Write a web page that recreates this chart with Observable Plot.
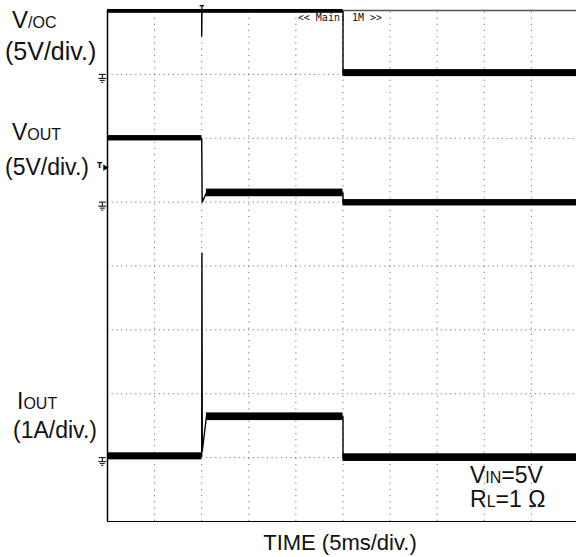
<!DOCTYPE html>
<html><head><meta charset="utf-8">
<script src="https://cdn.jsdelivr.net/npm/d3@7"></script>
<script src="https://cdn.jsdelivr.net/npm/@observablehq/plot@0.6"></script>
<style>
body{margin:0;background:#fff;}
#wrap{position:relative;width:576px;height:557px;overflow:hidden;background:#fff;font-family:"Liberation Sans",Arial,sans-serif;color:#111;}
#wrap svg{position:absolute;left:0;top:0;}
.lab{position:absolute;font-size:23px;line-height:1;white-space:nowrap;}
.sc{font-size:16px;}
</style></head><body><div id="wrap"></div>
<script>
// Screen divisions: time axis 0..10 div (5 ms/div), vertical 0..8 div
const timeDivs = [0,1,2,3,4,5,6,7,8,9,10];
const levelDivs = [0,1,2,3,4,5,6,7,8];

// Channel settings: ground marker position (div) and scale (units per div)
const channels = ["VOC","VOUT","IOUT"];
const channelGround = [7, 5, 1];
const channelScale = [5, 5, 1];
const triggerLevelVolts = 2.7; // VOUT trigger marker

// Trace waveforms (time in div, value in V or A)
const vocTime  = [0,    2,    2,   2.005, 5,    5,    10];
const vocValue = [4.93, 4.93, 3.0, 4.93,  4.93, 0.1,  0.1];
const voutTime  = [0,   2,    2.01, 2.1,  5,    5,     10];
const voutValue = [5.0, 5.0,  0.0,  0.72, 0.72, -0.05, -0.05];
const ioutTime  = [0,    2,    2.005, 2.012, 2.1,  5,    5,    10];
const ioutValue = [0.02, 0.02, 3.2,   0.1,   0.64, 0.64, 0.0,  0.0];

// Noise (ripple) bands on the flat parts: start, end, level, peak-to-peak
const bandChannel = ["VOC","VOC","VOUT","VOUT","VOUT","IOUT","IOUT","IOUT"];
const bandStart   = [0,    5,    0,     2.1,   5,     0,     2.1,   5];
const bandEnd     = [5,    10,   2,     5,     10,    2,     5,     10];
const bandLevel   = [4.93, 0.1,  5.0,   0.72,  -0.05, 0.02,  0.64,  0.0];
const bandRipple  = [0.3,  0.55, 0.42,  0.6,   0.5,   0.11,  0.12,  0.12];

const toDiv = (ch, v) => { const i = channels.indexOf(ch); return channelGround[i] + v / channelScale[i]; };

const traces = [
  ...vocTime.map((t,i)=>({ch:"VOC", t, y: toDiv("VOC", vocValue[i])})),
  ...voutTime.map((t,i)=>({ch:"VOUT", t, y: toDiv("VOUT", voutValue[i])})),
  ...ioutTime.map((t,i)=>({ch:"IOUT", t, y: toDiv("IOUT", ioutValue[i])}))
];
const bands = bandChannel.map((ch,i)=>({
  t1: bandStart[i], t2: bandEnd[i],
  y1: toDiv(ch, bandLevel[i] - bandRipple[i]/2),
  y2: toDiv(ch, bandLevel[i] + bandRipple[i]/2)
}));
const grounds = channels.map((ch,i)=>({t:-0.11, y: channelGround[i]}));

const groundSymbol = {
  draw(ctx, size) {
    ctx.moveTo(-3.5, 0); ctx.lineTo(3.5, 0);
    ctx.moveTo(0, 0); ctx.lineTo(0, 4);
    ctx.moveTo(-4, 4); ctx.lineTo(4, 4);
    ctx.moveTo(-2.5, 6); ctx.lineTo(2.5, 6);
    ctx.moveTo(-1, 8); ctx.lineTo(1, 8);
  }
};

const chart = Plot.plot({
  width: 576, height: 557,
  marginLeft: 0, marginRight: 0, marginTop: 0, marginBottom: 0,
  x: {domain: [0, 10], range: [107, 578], axis: null},
  y: {domain: [0, 8], range: [521, 10], axis: null},
  style: {background: "transparent", overflow: "hidden"},
  marks: [
    Plot.ruleX(timeDivs.slice(1, -1), {y1: 0, y2: 8, stroke: "#777", strokeWidth: 1, strokeDasharray: "1.2,5"}),
    Plot.ruleY(levelDivs.slice(1, -1), {x1: 0, x2: 10, stroke: "#777", strokeWidth: 1, strokeDasharray: "1.2,3.5"}),
    Plot.ruleX([0], {y1: 0, y2: 8, stroke: "#000", strokeWidth: 1.5}),
    Plot.ruleY([0], {x1: 0, x2: 10, stroke: "#000", strokeWidth: 1.2}),
    Plot.ruleY([8], {x1: 0, x2: 10, stroke: "#555", strokeWidth: 1.5}),
    Plot.rect(bands, {x1: "t1", x2: "t2", y1: "y1", y2: "y2", fill: "#000"}),
    Plot.line(traces, {x: "t", y: "y", z: "ch", stroke: "#000", strokeWidth: 1.4, curve: "linear"}),
    Plot.dot(grounds, {x: "t", y: "y", symbol: groundSymbol, stroke: "#000", strokeWidth: 1, r: 4}),
    Plot.text(["T"], {x: -0.17, y: toDiv("VOUT", triggerLevelVolts), fontSize: 9, fontWeight: "bold", fill: "#000", dy: -3}),
    Plot.dot([0], {x: -0.05, y: toDiv("VOUT", triggerLevelVolts), symbol: "triangle2", rotate: 90, r: 3, fill: "#000", stroke: "none"}),
    Plot.text(["<< Main: 1M >>"], {x: 4.04, y: 7.88, textAnchor: "start", fontSize: 10, fontFamily: "DejaVu Sans Mono", fill: "#111"}),
    Plot.text(["T"], {x: 2, y: 8, fontSize: 8, fontWeight: "bold", fill: "#000", dy: -2})
  ]
});
const wrap = document.getElementById("wrap");
wrap.appendChild(chart);

const labels = [
  {html: 'V<span class="sc">/OC</span>', left: 12, base: 28, size: 24},
  {html: '(5V/div.)', left: 5, base: 60, size: 25},
  {html: 'V<span class="sc">OUT</span>', left: 12, base: 140, size: 23},
  {html: '(5V/div.)', left: 5, base: 175, size: 23},
  {html: 'I<span class="sc">OUT</span>', left: 17, base: 409, size: 23},
  {html: '(1A/div.)', left: 13, base: 438, size: 23},
  {html: 'V<span class="sc">IN</span>=5V', left: 470, base: 483, size: 23},
  {html: 'R<span class="sc">L</span>=1 Ω', left: 470, base: 507, size: 23}
];
for (const l of labels) {
  const d = document.createElement("div");
  d.className = "lab"; d.innerHTML = l.html;
  d.style.fontSize = l.size + "px";
  d.style.left = l.left + "px"; d.style.top = (l.base - 0.8465 * l.size) + "px";
  wrap.appendChild(d);
}
const cap = document.createElement("div");
cap.className = "lab"; cap.textContent = "TIME (5ms/div.)";
cap.style.fontSize = "22px";
cap.style.left = "0px"; cap.style.width = "680px"; cap.style.textAlign = "center";
cap.style.top = (551 - 18.6) + "px";
wrap.appendChild(cap);
</script></body></html>
